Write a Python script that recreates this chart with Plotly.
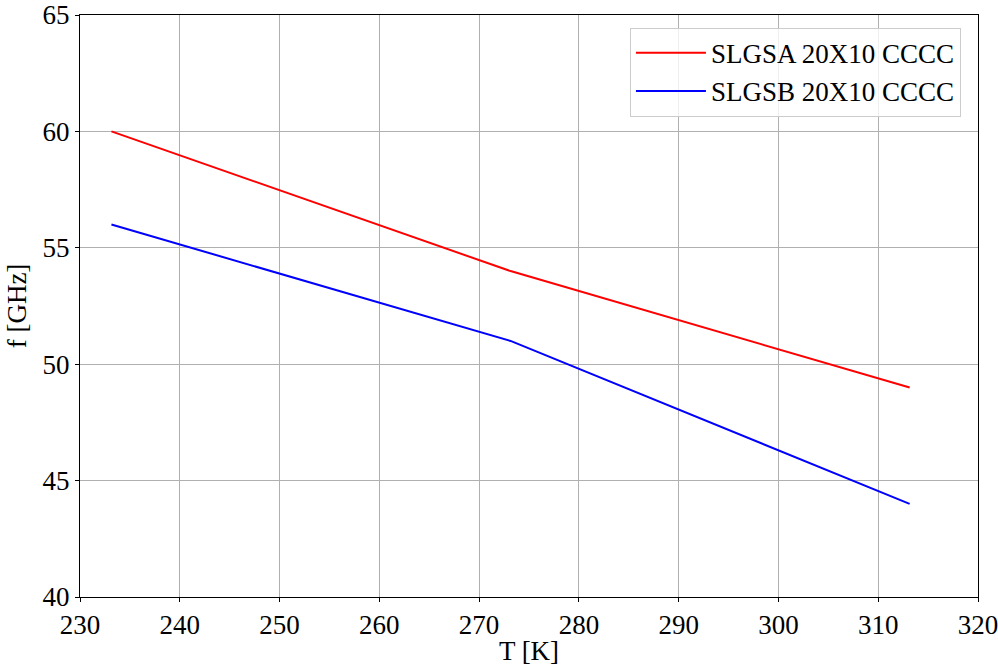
import plotly.graph_objects as go

temperature_K = [233.15, 273.15, 313.15]
f_slgsa = [60.0, 54.0, 49.0]
f_slgsb = [56.0, 51.0, 44.0]
x_ticks = [230, 240, 250, 260, 270, 280, 290, 300, 310, 320]
y_ticks = [40, 45, 50, 55, 60, 65]

FONT = "Liberation Serif"
FS = 27

fig = go.Figure()
fig.add_trace(go.Scatter(x=temperature_K, y=f_slgsa, mode="lines",
                         name="SLGSA 20X10 CCCC", line=dict(color="red", width=2)))
fig.add_trace(go.Scatter(x=temperature_K, y=f_slgsb, mode="lines",
                         name="SLGSB 20X10 CCCC", line=dict(color="blue", width=2)))

axis_common = dict(showline=True, linecolor="black", linewidth=1, mirror=True,
                   ticks="outside", ticklen=4, tickcolor="black", tickwidth=1,
                   showgrid=True, gridcolor="#b0b0b0", gridwidth=0.8,
                   zeroline=False, automargin=False, ticklabeloverflow="allow",
                   tickfont=dict(family=FONT, size=FS, color="black"))

fig.update_xaxes(range=[230, 320], tickvals=x_ticks,
                 title=dict(text="T [K]", font=dict(family=FONT, size=FS, color="black"), standoff=0),
                 **axis_common)
fig.update_yaxes(range=[40, 65], tickvals=y_ticks,
                 title=dict(text="f [GHz]", font=dict(family=FONT, size=FS, color="black"), standoff=8),
                 **axis_common)

fig.update_layout(
    width=998, height=666,
    margin=dict(l=80, r=20, t=15, b=69),
    plot_bgcolor="white", paper_bgcolor="white",
    font=dict(family=FONT, size=FS, color="black"),
    legend=dict(x=0.981, y=0.978, xanchor="right", yanchor="top", itemwidth=70,
                bgcolor="rgba(255,255,255,0.8)", bordercolor="#cccccc", borderwidth=1,
                font=dict(family=FONT, size=FS, color="black")),
    showlegend=True,
)

fig.write_html("out.html", config={"displayModeBar": False},
               post_script="document.body.style.margin='0';document.body.style.overflow='hidden';")
